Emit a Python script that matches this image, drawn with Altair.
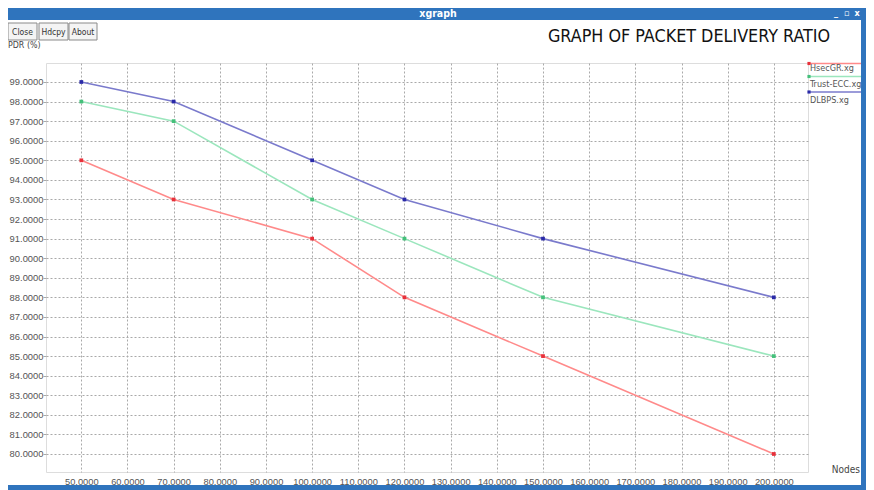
import altair as alt
import pandas as pd

# ---- data ----
nodes = [50, 70, 100, 120, 150, 200]
hsecgr = [95, 93, 91, 88, 85, 80]
trust_ecc = [98, 97, 93, 91, 88, 85]
dlbps = [99, 98, 95, 93, 91, 88]
series_names = ["HsecGR.xg", "Trust-ECC.xg", "DLBPS.xg"]
x_ticks = list(range(50, 201, 10))
y_ticks = list(range(80, 100))
buttons = ["Close", "Hdcpy", "About"]
title_text = "GRAPH OF PACKET DELIVERY RATIO"
window_title = "xgraph"
window_icons = ["_", "▫", "x"]
y_title = "PDR (%)"
x_title = "Nodes"

line_colors = ["#ff8a8a", "#9be6bd", "#7a7acc"]
point_colors = ["#e8303a", "#44c07a", "#2a2aa8"]

FONT = "Liberation Sans"
NARROW = "DejaVu Sans Condensed, Liberation Sans, sans-serif"
BLUE = "#2f74bd"

rows = []
for name, vals in zip(series_names, [hsecgr, trust_ecc, dlbps]):
    for n, v in zip(nodes, vals):
        rows.append({"Nodes": n, "PDR": v, "Series": name})
df = pd.DataFrame(rows)

W, H = 762, 409
one = pd.DataFrame({"k": [0]})

x_axis = alt.Axis(values=x_ticks, format=".4f", title=None, domain=False,
                  tickSize=0, labelPadding=5, labelFontSize=9.3,
                  labelColor="#555555", labelFont=FONT, labelOverlap=False,
                  grid=True, gridColor="#a9a9a9", gridDash=[2, 2],
                  labelFlush=False)
y_axis = alt.Axis(values=y_ticks, format=".4f", title=None, domain=False,
                  tickSize=3, tickColor="#a9a9a9", labelPadding=0,
                  labelFontSize=9.4, labelColor="#555555", labelFont=FONT,
                  labelOverlap=False, labelFlush=False,
                  grid=True, gridColor="#a9a9a9", gridDash=[2, 2])
x_scale = alt.Scale(domain=[42.35, 207.4], nice=False, zero=False)
y_scale = alt.Scale(domain=[79.08, 99.97], nice=False, zero=False)

lines = alt.Chart(df).mark_line(strokeWidth=1.6).encode(
    x=alt.X("Nodes:Q", scale=x_scale, axis=x_axis),
    y=alt.Y("PDR:Q", scale=y_scale, axis=y_axis),
    color=alt.Color("Series:N", scale=alt.Scale(domain=series_names, range=line_colors), legend=None),
)
points = alt.Chart(df).mark_point(filled=True, shape="square", size=14, opacity=1).encode(
    x=alt.X("Nodes:Q", scale=x_scale, axis=x_axis),
    y=alt.Y("PDR:Q", scale=y_scale, axis=y_axis),
    fill=alt.Fill("Series:N", scale=alt.Scale(domain=series_names, range=point_colors), legend=None),
)

layers = []

# window chrome: title bar, borders
layers.append(alt.Chart(one).mark_rect(color=BLUE).encode(
    x=alt.value(-38), x2=alt.value(820), y=alt.value(-55), y2=alt.value(-43)))
layers.append(alt.Chart(one).mark_text(text=window_title, color="white", fontSize=10.5,
                                       font=NARROW, fontWeight="bold", baseline="middle").encode(
    x=alt.value(392), y=alt.value(-49.5)))
for icon, ix in zip(window_icons, [790, 801, 811]):
    layers.append(alt.Chart(one).mark_text(text=icon, color="white", fontSize=9,
                                           font=NARROW, fontWeight="bold", baseline="middle").encode(
        x=alt.value(ix), y=alt.value(-50)))
layers.append(alt.Chart(one).mark_rect(color=BLUE).encode(
    x=alt.value(815), x2=alt.value(820), y=alt.value(-55), y2=alt.value(427)))
layers.append(alt.Chart(one).mark_rect(color=BLUE).encode(
    x=alt.value(-38), x2=alt.value(820), y=alt.value(422), y2=alt.value(427)))

# buttons
btn_x = [(-38, -9), (-7, 22), (23, 51)]
for label, (a, b) in zip(buttons, btn_x):
    layers.append(alt.Chart(one).mark_rect(fill="#f4f4f4", stroke="#8a8a8a", strokeWidth=1).encode(
        x=alt.value(a), x2=alt.value(b), y=alt.value(-40), y2=alt.value(-23)))
    layers.append(alt.Chart(one).mark_text(text=label, fontSize=8.5, font=NARROW, color="#333333",
                                           baseline="middle").encode(
        x=alt.value((a + b) / 2), y=alt.value(-31.5)))

# titles
layers.append(alt.Chart(one).mark_text(text=title_text, fontSize=17.8, font=NARROW, color="#111111",
                                       baseline="middle").encode(
    x=alt.value(643), y=alt.value(-26)))
layers.append(alt.Chart(one).mark_text(text=y_title, fontSize=8.8, font=NARROW, color="#444444",
                                       align="left", baseline="middle").encode(
    x=alt.value(-38), y=alt.value(-18)))
layers.append(alt.Chart(one).mark_text(text=x_title, fontSize=10, font=NARROW, color="#444444",
                                       align="right", baseline="middle").encode(
    x=alt.value(814), y=alt.value(407)))

# legend at right
leg_line_y = [0.5, 13.5, 29]
leg_text_y = [4.5, 20.5, 36.5]
for name, lc, pc, ly, ty in zip(series_names, line_colors, point_colors, leg_line_y, leg_text_y):
    layers.append(alt.Chart(one).mark_rule(color=lc, strokeWidth=1.6).encode(
        x=alt.value(762), x2=alt.value(815), y=alt.value(ly)))
    layers.append(alt.Chart(one).mark_point(filled=True, shape="square", size=10, color=pc, opacity=1).encode(
        x=alt.value(763), y=alt.value(ly)))
    layers.append(alt.Chart(one).mark_text(text=name, fontSize=9, font=NARROW, color="#555555",
                                           align="left", baseline="middle").encode(
        x=alt.value(764), y=alt.value(ty)))

chart = alt.layer(lines, points, *layers).properties(
    width=W, height=H,
    autosize=alt.AutoSizeParams(type="none"),
    padding={"left": 38, "top": 55, "right": 58, "bottom": 18},
).configure_view(stroke="#b0b0b0", strokeWidth=1).configure_axis(
    labelOverlap=False
).configure(background="white")

chart.save("out.html", embed_options={"renderer": "svg", "actions": False})
